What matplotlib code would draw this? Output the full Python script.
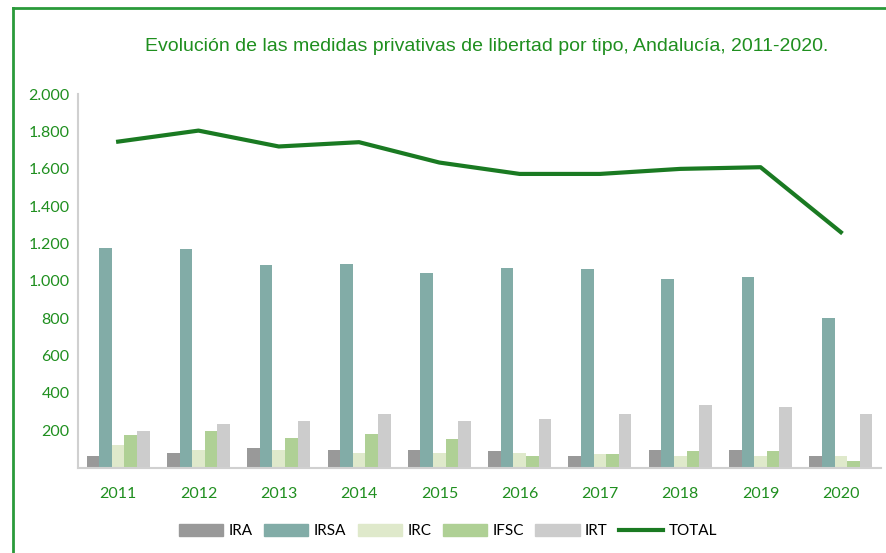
import matplotlib.pyplot as plt
import numpy as np
from matplotlib.patches import Rectangle
from matplotlib.lines import Line2D

years = ["2011", "2012", "2013", "2014", "2015", "2016", "2017", "2018", "2019", "2020"]
ira = [64, 80, 107, 96, 96, 86, 64, 96, 96, 59]
irsa = [1177, 1171, 1085, 1090, 1042, 1069, 1063, 1010, 1020, 801]
irc = [118, 96, 96, 75, 75, 75, 70, 59, 59, 59]
ifsc = [176, 198, 160, 182, 150, 59, 70, 86, 86, 37]
irt = [193, 235, 251, 284, 251, 262, 289, 337, 326, 284]
total = [1745, 1804, 1719, 1742, 1633, 1572, 1572, 1599, 1608, 1260]

series = [("IRA", ira, "#999999"), ("IRSA", irsa, "#82aca7"),
          ("IRC", irc, "#dfe9cb"), ("IFSC", ifsc, "#afd095"),
          ("IRT", irt, "#cccccc")]
green = "#1a7a22"
tick_green = "#1f8f1f"

fig = plt.figure(figsize=(8.86, 5.53), dpi=100)
ax = fig.add_axes([78 / 886, (553 - 467.5) / 553, 803 / 886, (467.5 - 94) / 553])

x = np.arange(len(years))
w = 0.157
for i, (name, vals, col) in enumerate(series):
    ax.bar(x + (i - 2) * w, vals, width=w, color=col, label=name, zorder=2)
ax.plot(x, total, color=green, linewidth=3, label="TOTAL", zorder=3)

ax.set_xlim(-0.5, len(years) - 0.5)
ax.set_ylim(0, 2000)
ax.set_yticks(range(200, 2001, 200))
ax.set_yticklabels([f"{v:,}".replace(",", ".") for v in range(200, 2001, 200)])
ax.set_xticks(x)
ax.set_xticklabels(years)
ax.tick_params(length=0, labelsize=11.5, labelcolor=tick_green)
ax.tick_params(axis="x", pad=14)
ax.tick_params(axis="y", pad=6)
for lab in ax.get_xticklabels() + ax.get_yticklabels():
    lab.set_fontfamily("Lato")
for s in ["top", "right"]:
    ax.spines[s].set_visible(False)
for s in ["left", "bottom"]:
    ax.spines[s].set_color("#d0d0d0")
    ax.spines[s].set_linewidth(1.5)

fig.text(487 / 886, 1 - 47 / 553, "Evolución de las medidas privativas de libertad por tipo, Andalucía, 2011-2020.",
         ha="center", va="center", color=tick_green, fontsize=14, family="Liberation Sans")

handles = [Rectangle((0, 0), 1, 1, color=c) for _, _, c in series]
handles.append(Line2D([0], [0], color=green, linewidth=3))
labels = [n for n, _, _ in series] + ["TOTAL"]
fig.legend(handles, labels, loc="center", bbox_to_anchor=(448 / 886, 1 - 531 / 553),
           ncol=6, frameon=False, prop={"family": "Lato", "size": 11},
           handlelength=2.9, handleheight=0.8, columnspacing=0.75, handletextpad=0.35)

# chart border (left and top edges visible)
fig.add_artist(Line2D([13 / 886, 13 / 886], [0, 1 - 8 / 553], color="#2a9a3a", linewidth=2,
                      transform=fig.transFigure))
fig.add_artist(Line2D([13 / 886, 1], [1 - 8 / 553, 1 - 8 / 553], color="#2a9a3a", linewidth=2,
                      transform=fig.transFigure))

fig.savefig("out.png", dpi=100)
